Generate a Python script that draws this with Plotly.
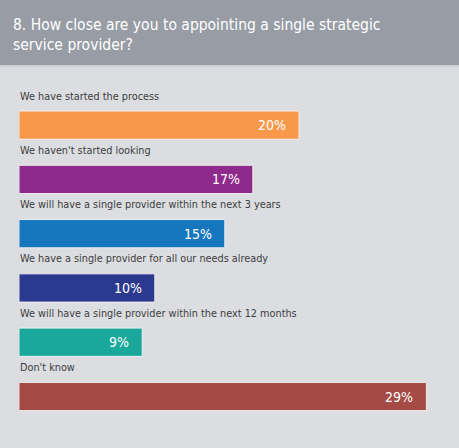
import plotly.graph_objects as go

categories = [
    "We have started the process",
    "We haven't started looking",
    "We will have a single provider within the next 3 years",
    "We have a single provider for all our needs already",
    "We will have a single provider within the next 12 months",
    "Don't know",
]
values = [20.0, 16.7, 14.7, 9.7, 8.8, 29.1]
value_labels = ["20%", "17%", "15%", "10%", "9%", "29%"]
colors = ["#f7984a", "#8f2a8d", "#1677bf", "#2b3a8f", "#19a89b", "#a44b45"]
title_text = "8. How close are you to appointing a single strategic<br>service provider?"

W, H = 459, 448
ML, MR, MT, MB = 19, 20, 98, 14
plot_h = H - MT - MB
FONT = "DejaVu Sans Condensed, sans-serif"

fig = go.Figure()
fig.add_trace(go.Bar(
    x=values, y=categories, orientation="h",
    marker=dict(color=colors, line=dict(color="rgba(245,245,247,0.9)", width=1)),
    width=0.52,
    hoverinfo="skip",
))

annotations = []
for c, v, t in zip(categories, values, value_labels):
    annotations.append(dict(x=0, y=c, xref="x", yref="y", text=c, showarrow=False,
                            xanchor="left", yanchor="middle", yshift=29, xshift=-1,
                            font=dict(family=FONT, size=10.8, color="#3d3d40")))
    annotations.append(dict(x=v, y=c, xref="x", yref="y", text=t, showarrow=False,
                            xanchor="right", yanchor="middle", xshift=-11,
                            font=dict(family=FONT, size=14, color="#ffffff")))

annotations.append(dict(x=(11 - ML) / (W - ML - MR), y=1 + (MT - 35) / plot_h,
                        xref="paper", yref="paper", text=title_text, showarrow=False,
                        xanchor="left", yanchor="middle", align="left",
                        font=dict(family=FONT, size=15.5, color="#ffffff")))

shapes = [
    dict(type="rect", xref="paper", yref="paper",
         x0=-ML / (W - ML - MR), x1=1 + MR / (W - ML - MR),
         y0=1 + (MT - 65) / plot_h, y1=1 + MT / plot_h,
         fillcolor="#979ca5", line=dict(width=0), layer="below"),
    dict(type="line", xref="paper", yref="paper",
         x0=-ML / (W - ML - MR), x1=1 + MR / (W - ML - MR),
         y0=1 + (MT - 66) / plot_h, y1=1 + (MT - 66) / plot_h,
         line=dict(color="#c6c8cd", width=1.5)),
]

fig.update_layout(
    width=W, height=H,
    margin=dict(l=ML, r=MR, t=MT, b=MB, pad=0),
    paper_bgcolor="#dcdde1", plot_bgcolor="#dcdde1",
    showlegend=False,
    xaxis=dict(range=[0, 30], visible=False, fixedrange=True),
    yaxis=dict(autorange="reversed", visible=False, fixedrange=True),
    annotations=annotations, shapes=shapes,
)

fig.write_html("out.html")
